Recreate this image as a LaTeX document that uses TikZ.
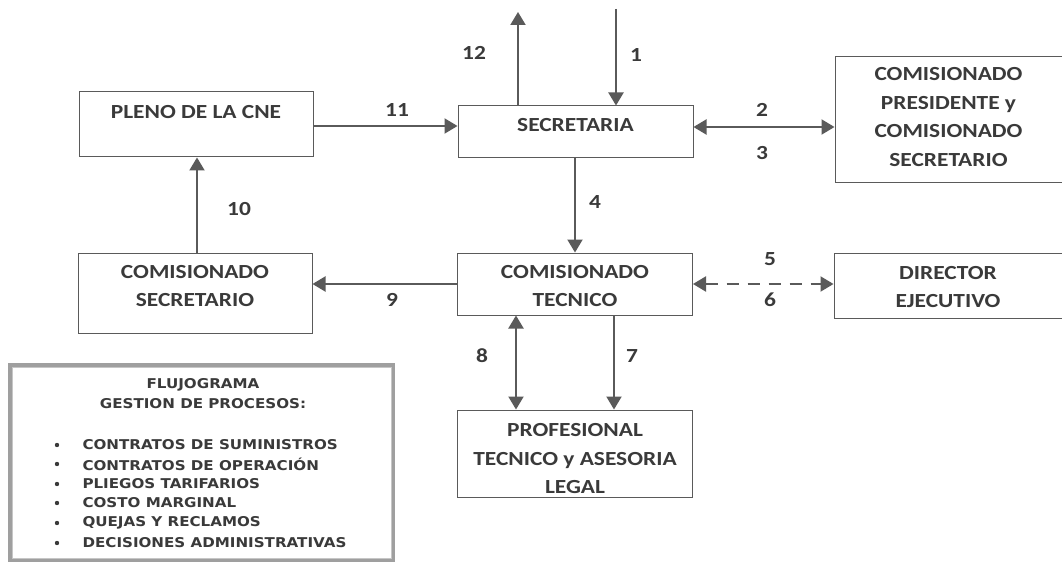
\documentclass[tikz,border=0pt]{standalone}
\usepackage{fontspec}
\setmainfont{Carlito}
\newfontfamily\boxfont[FakeStretch=1.17]{Carlito}
\newfontfamily\legendfont[FakeStretch=1.12]{DejaVu Sans}
\usetikzlibrary{arrows.meta}
\definecolor{txt}{HTML}{3A3A3A}
\definecolor{ln}{HTML}{5A5A5A}
\newcommand{\boxtext}[2]{\raisebox{#1pt}[0pt][0pt]{\begin{tabular}{@{}c@{}}#2\end{tabular}}}
\begin{document}
\begin{tikzpicture}[x=1pt,y=-1pt,
  box/.style={draw=ln, line width=1pt, inner sep=0pt, text=txt, font=\boxfont\fontsize{20}{28.5}\selectfont\bfseries},
  arr/.style={draw=ln, line width=2pt, -{Triangle[length=13pt,width=15pt]}},
  darr/.style={draw=ln, line width=2pt, {Triangle[length=13pt,width=15pt]}-{Triangle[length=13pt,width=15pt]}},
  num/.style={text=txt, font=\boxfont\fontsize{20}{24}\selectfont\bfseries},
  legtxt/.style={text=txt, font=\legendfont\fontsize{13.5}{16}\selectfont\bfseries},
  item/.style={legtxt, anchor=west}]
\useasboundingbox (0,0) rectangle (1062,564);
\fill[white] (0,0) rectangle (1062,564);
% boxes
\node[box, minimum width=234pt, minimum height=65pt] (pleno) at (196,124.5) {\boxtext{6.5}{PLENO DE LA CNE}};
\node[box, minimum width=235pt, minimum height=52pt] (sec) at (575.5,132) {\boxtext{1}{SECRETARIA}};
\node[box, minimum width=227pt, minimum height=126pt] (pres) at (948.5,120) {\boxtext{-3}{COMISIONADO\\PRESIDENTE y\\COMISIONADO\\SECRETARIO}};
\node[box, minimum width=234pt, minimum height=80pt] (cs) at (195,293) {\boxtext{1}{COMISIONADO\\SECRETARIO}};
\node[box, minimum width=235pt, minimum height=62pt] (ct) at (575,284) {\boxtext{-8}{COMISIONADO\\TECNICO}};
\node[box, minimum width=228pt, minimum height=65pt] (dir) at (948,285.5) {\boxtext{-7.5}{DIRECTOR\\EJECUTIVO}};
\node[box, minimum width=235pt, minimum height=87pt] (prof) at (575,453.5) {\boxtext{-11}{PROFESIONAL\\TECNICO y ASESORIA\\LEGAL}};
% free ends
\coordinate (top12) at (518,12);
\coordinate (top1) at (616,9);
% connectors
\draw[arr] (sec.north -| top12) -- (top12);
\draw[arr] (top1) -- (sec.north -| top1);
\draw[arr] (pleno.east |- 0,126) -- (sec.west |- 0,126);
\draw[darr] (sec.east |- 0,127) -- (pres.west |- 0,127);
\draw[arr] (sec.south -| 575,0) -- (ct.north -| 575,0);
\draw[arr] (cs.north -| 197,0) -- (pleno.south -| 197,0);
\draw[arr] (ct.west |- 0,284) -- (cs.east |- 0,284);
\draw[darr, dash pattern=on 12pt off 9pt] (ct.east |- 0,284) -- (dir.west |- 0,284);
\draw[darr] (ct.south -| 516,0) -- (prof.north -| 516,0);
\draw[arr] (ct.south -| 614,0) -- (prof.north -| 614,0);
% numbers
\node[num] (n12) at (474,53) {12};
\node[num] (n1) at (636,55) {1};
\node[num] (n11) at (397,110) {11};
\node[num] (n2) at (762,110) {2};
\node[num] (n3) at (762,153) {3};
\node[num] (n4) at (595,202) {4};
\node[num] (n10) at (239,209) {10};
\node[num] (n9) at (392,300) {9};
\node[num] (n5) at (770,259) {5};
\node[num] (n6) at (770,300) {6};
\node[num] (n8) at (482,356) {8};
\node[num] (n7) at (632,356) {7};
% legend
\node[draw=gray!75, line width=4pt, minimum width=383pt, minimum height=195pt, inner sep=0pt] (leg) at (201.5,462.5) {};
\draw[gray!45, line width=0.6pt] ([shift={(4pt,4pt)}]leg.south west) rectangle ([shift={(-4pt,-4pt)}]leg.north east);
\node[legtxt] (lt1) at (203,385) {FLUJOGRAMA};
\node[legtxt] (lt2) at (203,404) {GESTION DE PROCESOS:};
\foreach \t/\yy [count=\i] in {CONTRATOS DE SUMINISTROS/445, CONTRATOS DE OPERACIÓN/464, PLIEGOS TARIFARIOS/484, COSTO MARGINAL/503, QUEJAS Y RECLAMOS/523, DECISIONES ADMINISTRATIVAS/543}{
  \fill[txt] (57,\yy) circle (2.2pt);
  \node[item] (it\i) at (79,\yy) {\t};
}
\end{tikzpicture}
\end{document}
